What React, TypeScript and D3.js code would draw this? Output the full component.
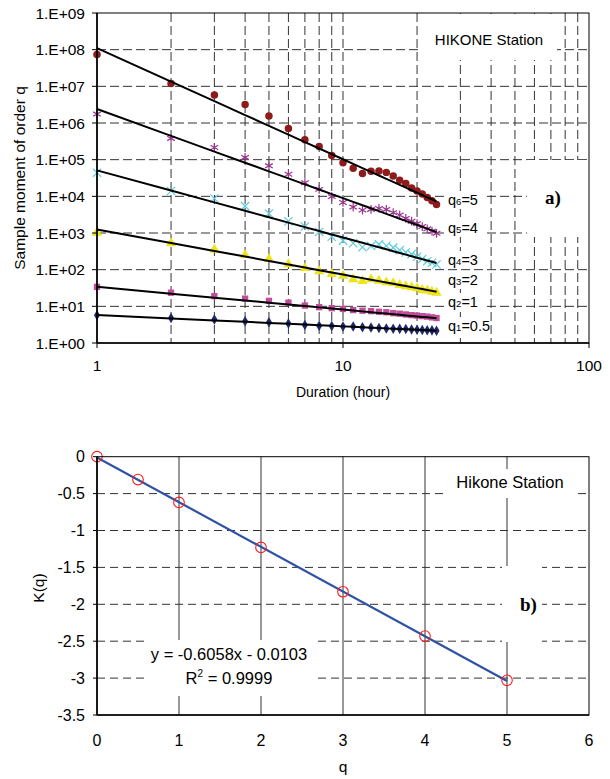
import React from "react";
import * as d3 from "d3";

// durations (hour)
const durations = [1, 2, 3, 4, 5, 6, 7, 8, 9, 10, 11, 12, 13, 14, 15, 16, 17, 18, 19, 20, 21, 22, 23, 24];

// sample moments, one array per order q
const momQ5 = [7.4e7, 1.2e7, 5.8e6, 3.2e6, 1.55e6, 7.1e5, 3.5e5, 2.3e5, 1.3e5, 8.3e4, 5.8e4, 4.2e4, 4.8e4, 4.9e4, 4.5e4, 3.6e4, 2.75e4, 2.25e4, 1.7e4, 1.4e4, 1.15e4, 9.3e3, 7.6e3, 6.0e3];
const momQ4 = [1.75e6, 3.8e5, 2.15e5, 1.15e5, 6.8e4, 4.0e4, 2.35e4, 1.55e4, 9.8e3, 6.8e3, 5.1e3, 4.2e3, 4.4e3, 4.7e3, 4.4e3, 3.6e3, 3.1e3, 2.5e3, 2.1e3, 1.8e3, 1.5e3, 1.3e3, 1.12e3, 980];
const momQ3 = [4.4e4, 1.4e4, 8.7e3, 5.4e3, 3.4e3, 2.1e3, 1.5e3, 1.07e3, 790, 620, 525, 410, 440, 490, 450, 400, 340, 295, 265, 225, 195, 170, 155, 138];
const momQ2 = [1020, 525, 355, 250, 195, 140, 110, 91, 76, 68, 55, 49, 55, 50, 45, 43, 38, 35.5, 33, 31, 28, 27, 25, 23.5];
const momQ1 = [34, 23.5, 19, 16.2, 14.1, 12.6, 10.5, 9.5, 8.9, 8.5, 7.9, 7.6, 7.4, 7.1, 6.9, 6.5, 6.3, 6.0, 5.75, 5.6, 5.4, 5.25, 5.0, 4.8];
const momQ05 = [5.7, 4.8, 4.4, 3.9, 3.7, 3.4, 3.1, 2.95, 2.9, 2.8, 2.8, 2.7, 2.63, 2.57, 2.5, 2.45, 2.43, 2.4, 2.35, 2.3, 2.26, 2.24, 2.21, 2.16];

// fitted moment at duration 1 for each series
const fitAtOne = [1.1e8, 2.4e6, 5.1e4, 1250, 34, 5.8];
const seriesQ = [5, 4, 3, 2, 1, 0.5];
const seriesSub = ["6", "5", "4", "3", "2", "1"];

// K(q)
const qValues = [0, 0.5, 1, 2, 3, 4, 5];
const kValues = [0, -0.31, -0.62, -1.23, -1.83, -2.43, -3.03];
const fitSlope = -0.6058;
const fitIntercept = -0.0103;

const yTicksTop = [1, 1e1, 1e2, 1e3, 1e4, 1e5, 1e6, 1e7, 1e8, 1e9];
const xTicksTop = [1, 10, 100];
const yTicksBot = [0, -0.5, -1, -1.5, -2, -2.5, -3, -3.5];
const xTicksBot = [0, 1, 2, 3, 4, 5, 6];

const font = "Arial, 'Liberation Sans', sans-serif";
const serif = "'Times New Roman', 'Liberation Serif', serif";

const series = [
  { data: momQ5, color: "#8e1b1b", sym: d3.symbolCircle, size: 44, fill: true },
  { data: momQ4, color: "#99358f", sym: d3.symbolAsterisk, size: 54, fill: false },
  { data: momQ3, color: "#5ccbdc", sym: d3.symbolTimes, size: 46, fill: false },
  { data: momQ2, color: "#ede41a", sym: d3.symbolTriangle, size: 46, fill: true },
  { data: momQ1, color: "#c44c9c", sym: d3.symbolSquare, size: 40, fill: true },
  { data: momQ05, color: "#1f276e", sym: d3.symbolDiamond, size: 32, fill: true },
];

// label layout (q labels at right of the lines)
const labelY = [200, 228, 260, 280, 302, 326];

const fmtE = (v: number) => {
  const e = Math.round(Math.log10(v));
  return `1.E+${String(e).padStart(2, "0")}`;
};

export default function App() {
  const L = 97, R = 589;
  const x1 = d3.scaleLog().domain([1, 100]).range([L, R]);
  const y1 = d3.scaleLog().domain([1, 1e9]).range([343, 13]);
  const x2 = d3.scaleLinear().domain([0, 6]).range([L, R]);
  const y2 = d3.scaleLinear().domain([-3.5, 0]).range([715, 456.7]);

  const minorX: number[] = [];
  [1, 10].forEach((b) => {
    for (let m = 2; m <= 9; m++) minorX.push(b * m);
  });
  minorX.push(10);

  const kOf = (q: number) => kValues[qValues.indexOf(q)];

  return (
    <svg width={610} height={779} style={{ position: "absolute", left: 0, top: 0, background: "#fff" }} fontFamily={font}>
      {/* ---------- chart a ---------- */}
      <g>
        {minorX.map((v) => (
          <line key={"vx" + v} x1={x1(v)} x2={x1(v)} y1={13} y2={343} stroke="#333" strokeWidth={1} strokeDasharray="9,4" />
        ))}
        {yTicksTop.slice(1, -1).map((v) => (
          <line key={"hy" + v} x1={L} x2={R} y1={y1(v)} y2={y1(v)} stroke="#333" strokeWidth={1} strokeDasharray="9,4" />
        ))}
        {/* white label boxes */}
        <rect x={418} y={14} width={139} height={46} fill="#fff" />
        <rect x={527} y={160} width={61} height={77} fill="#fff" />
        {seriesQ.map((q, i) => (
          <rect key={"lb" + i} x={444} y={labelY[i] - 9} width={40} height={18} fill="#fff" />
        ))}

        {series.map((s, i) => {
          const gen = d3.symbol().type(s.sym).size(s.size);
          return (
            <g key={"s" + i}>
              {s.data.map((v, j) => (
                <path
                  key={j}
                  d={gen() as string}
                  transform={`translate(${x1(durations[j])},${y1(v)})`}
                  fill={s.fill ? s.color : "none"}
                  stroke={s.color}
                  strokeWidth={s.fill ? 0 : 1.2}
                />
              ))}
            </g>
          );
        })}
        {seriesQ.map((q, i) => {
          const k = kOf(q);
          const pts = durations.map((d) => [x1(d), y1(fitAtOne[i] * Math.pow(d, k))] as [number, number]);
          return <path key={"f" + i} d={d3.line()(pts) as string} fill="none" stroke="#000" strokeWidth={2} />;
        })}

        {/* frame */}
        <rect x={L} y={13} width={R - L} height={330} fill="none" stroke="#000" strokeWidth={1} />
        <line x1={L} x2={L} y1={13} y2={343} stroke="#000" strokeWidth={1.6} />
        <line x1={L} x2={R} y1={343} y2={343} stroke="#000" strokeWidth={1.6} />
        {yTicksTop.map((v) => (
          <g key={"yt" + v}>
            <line x1={L - 5} x2={L} y1={y1(v)} y2={y1(v)} stroke="#000" />
            <text x={85} y={y1(v) + 5.5} textAnchor="end" fontSize={15.5}>
              {fmtE(v)}
            </text>
          </g>
        ))}
        {xTicksTop.map((v) => (
          <g key={"xt" + v}>
            <line x1={x1(v)} x2={x1(v)} y1={343} y2={348} stroke="#000" />
            <text x={x1(v)} y={371} textAnchor="middle" fontSize={15.5}>
              {v}
            </text>
          </g>
        ))}
        <text x={343} y={397} textAnchor="middle" fontSize={14}>
          Duration (hour)
        </text>
        <text transform="translate(25,178) rotate(-90)" textAnchor="middle" fontSize={15.5}>
          Sample moment of order q
        </text>
        <text x={489} y={45} textAnchor="middle" fontSize={15}>
          HIKONE Station
        </text>
        <text x={545} y={204} fontSize={19} fontWeight="bold" fontFamily={serif}>
          a)
        </text>
        {seriesQ.map((q, i) => (
          <text key={"lt" + i} x={448} y={labelY[i] + 5} fontSize={14.5}>
            q<tspan fontSize={9.5}>{seriesSub[i]}</tspan>={q}
          </text>
        ))}
      </g>

      {/* ---------- chart b ---------- */}
      <g>
        {xTicksBot.slice(1, -1).map((v) => (
          <line key={"bvx" + v} x1={x2(v)} x2={x2(v)} y1={456.7} y2={715} stroke="#333" strokeWidth={1} />
        ))}
        {yTicksBot.slice(1, -1).map((v) => (
          <line key={"bhy" + v} x1={L} x2={R} y1={y2(v)} y2={y2(v)} stroke="#333" strokeWidth={1} strokeDasharray="8,5" />
        ))}
        <rect x={443} y={469} width={132} height={29} fill="#fff" />
        <rect x={502} y={566} width={40} height={76} fill="#fff" />
        <rect x={145} y={640} width={168} height={56} fill="#fff" />

        <path
          d={d3.line()([
            [x2(0), y2(fitIntercept)],
            [x2(5), y2(fitSlope * 5 + fitIntercept)],
          ]) as string}
          stroke="#2f52a3"
          strokeWidth={2.2}
          fill="none"
        />
        {qValues.map((q, i) => (
          <circle key={"c" + i} cx={x2(q)} cy={y2(kValues[i])} r={5.3} fill="none" stroke="#ff1a1a" strokeWidth={1.1} />
        ))}

        <rect x={L} y={456.7} width={R - L} height={715 - 456.7} fill="none" stroke="#000" strokeWidth={1} />
        <line x1={L} x2={L} y1={456.7} y2={715} stroke="#000" strokeWidth={1.6} />
        <line x1={L} x2={R} y1={715} y2={715} stroke="#000" strokeWidth={1.6} />
        {yTicksBot.map((v) => (
          <g key={"byt" + v}>
            <line x1={L - 4} x2={L} y1={y2(v)} y2={y2(v)} stroke="#000" />
            <text x={85} y={y2(v) + 5.5} textAnchor="end" fontSize={16}>
              {v}
            </text>
          </g>
        ))}
        {xTicksBot.map((v) => (
          <text key={"bxt" + v} x={x2(v)} y={746} textAnchor="middle" fontSize={16}>
            {v}
          </text>
        ))}
        <text x={343} y={772} textAnchor="middle" fontSize={15.5}>
          q
        </text>
        <text transform="translate(44,588) rotate(-90)" textAnchor="middle" fontSize={15.5}>
          K(q)
        </text>
        <text x={510} y={488} textAnchor="middle" fontSize={16.5}>
          Hikone Station
        </text>
        <text x={520} y={611} fontSize={19} fontWeight="bold" fontFamily={serif}>
          b)
        </text>
        <text x={229} y={660} textAnchor="middle" fontSize={16.5}>
          y = -0.6058x - 0.0103
        </text>
        <text x={229} y={684} textAnchor="middle" fontSize={16.5}>
          R<tspan dy={-7} fontSize={10}>2</tspan>
          <tspan dy={7}> = 0.9999</tspan>
        </text>
      </g>
    </svg>
  );
}
